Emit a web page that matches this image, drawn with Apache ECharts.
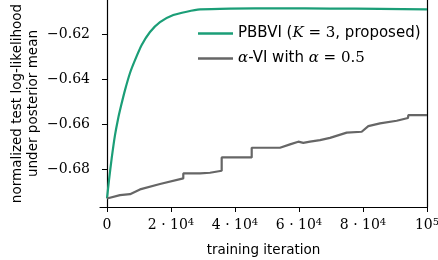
<!DOCTYPE html>
<html><head><meta charset="utf-8">
<script src="https://cdn.jsdelivr.net/npm/echarts@6/dist/echarts.min.js"></script>
<style>html,body{margin:0;padding:0;background:#fff}#c{width:438px;height:260px}</style>
</head><body><div id="c"></div>
<script>
// PBBVI (K=3) curve: [iteration, value]
const pbbviX = [0,625,1470,2500,3440,4375,5625,7190,8750,10840,13440,16560,20720,24910,29060,38440,54060,69690,85310,100000];
const pbbviY = [-0.6929,-0.6848,-0.6750,-0.6648,-0.6577,-0.6519,-0.6448,-0.6372,-0.6315,-0.6248,-0.6190,-0.6146,-0.6115,-0.6100,-0.6090,-0.6086,-0.6085,-0.6086,-0.6087,-0.6090];
// alpha-VI curve (with steps)
const alphaX = [0,4060,7190,10310,16560,23840,23840,29060,32190,35840,35840,45220,45220,54060,57190,59780,61340,63440,66560,69690,74910,74910,79590,81660,85310,90530,94060,94160,100000];
const alphaY = [-0.6929,-0.6914,-0.6910,-0.6889,-0.6865,-0.6840,-0.6818,-0.6818,-0.6815,-0.6806,-0.6747,-0.6747,-0.6704,-0.6704,-0.6689,-0.6677,-0.6682,-0.6677,-0.6670,-0.6660,-0.6637,-0.6633,-0.6633,-0.6608,-0.6596,-0.6584,-0.6572,-0.6559,-0.6559];
const xTicks = [0,20000,40000,60000,80000,100000];
const yTicks = [-0.68,-0.66,-0.64,-0.62];
const seriesNames = ['PBBVI','alpha'];

const serif = '"DejaVu Serif", serif';
const sans = '"DejaVu Sans", sans-serif';
const chart = echarts.init(document.getElementById('c'), null, {renderer:'canvas'});
const zip = (a,b)=>a.map((v,i)=>[v,b[i]]);
chart.setOption({
  animation:false,
  grid:{left:100,right:11,top:0,bottom:53,containLabel:false,outerBoundsMode:'none'},
  legend:{
    orient:'vertical', left:198, top:25, padding:0, itemWidth:35, itemHeight:2.5, itemGap:8, icon:'rect',
    data:seriesNames,
    formatter: n => n==='PBBVI' ? '{n|PBBVI (}{i|K}{m| = 3}{n|, proposed)}' : '{i|α}{n|-VI with }{i|α}{m| = 0.5}',
    textStyle:{color:'#000',fontSize:15,lineHeight:17,
      rich:{
        n:{fontFamily:sans,fontSize:15,color:'#000',lineHeight:17},
        i:{fontFamily:serif,fontStyle:'italic',fontSize:15,color:'#000',lineHeight:17},
        m:{fontFamily:serif,fontSize:15,color:'#000',lineHeight:17}
      }}
  },
  xAxis:{
    type:'value', min:-2187, max:100000,
    name:'training iteration', nameLocation:'middle', nameGap:36,
    nameTextStyle:{fontFamily:sans,fontSize:13.5,color:'#000'},
    axisLine:{show:true,onZero:false,lineStyle:{color:'#000',width:1.2}},
    axisTick:{show:true,length:5,customValues:xTicks,lineStyle:{color:'#000',width:1}},
    splitLine:{show:false},
    axisLabel:{
      customValues:xTicks, margin:11, color:'#000', fontFamily:serif, fontSize:14,
      formatter: v => v===0 ? '{b|0}' : (v===100000 ? '{b|10}{s|5}' : '{b|'+(v/10000)+' · 10}{s|4}'),
      rich:{
        b:{fontFamily:serif,fontSize:14,color:'#000',lineHeight:15},
        s:{fontFamily:serif,fontSize:10,color:'#000',lineHeight:15,padding:[0,0,7,0]}
      }
    }
  },
  yAxis:[{
    type:'value', min:-0.6967, max:-0.6048,
    name:'normalized test log-likelihood\nunder posterior mean', nameLocation:'middle', nameRotate:90, nameGap:59,
    nameMoveOverlap:false,
    nameTextStyle:{fontFamily:sans,fontSize:13.5,color:'#000',lineHeight:16},
    axisLine:{show:true,lineStyle:{color:'#000',width:1.2}},
    axisTick:{show:true,length:5,customValues:yTicks,lineStyle:{color:'#000',width:1}},
    splitLine:{show:false},
    axisLabel:{customValues:yTicks,margin:10,color:'#000',fontFamily:serif,fontSize:14,
      formatter: v => '−' + Math.abs(v).toFixed(2)}
  },{
    type:'value', position:'right', min:-0.6967, max:-0.6048,
    axisLine:{show:true,lineStyle:{color:'#000',width:1.2}},
    axisTick:{show:false}, axisLabel:{show:false}, splitLine:{show:false}
  }],
  series:[
    {name:'PBBVI',type:'line',data:zip(pbbviX,pbbviY),smooth:0.2,showSymbol:false,symbol:'none',
     lineStyle:{color:'#1b9e77',width:2.2},itemStyle:{color:'#1b9e77'}},
    {name:'alpha',type:'line',data:zip(alphaX,alphaY),showSymbol:false,symbol:'none',
     lineStyle:{color:'#666666',width:2.2},itemStyle:{color:'#666666'}}
  ]
});
</script></body></html>
